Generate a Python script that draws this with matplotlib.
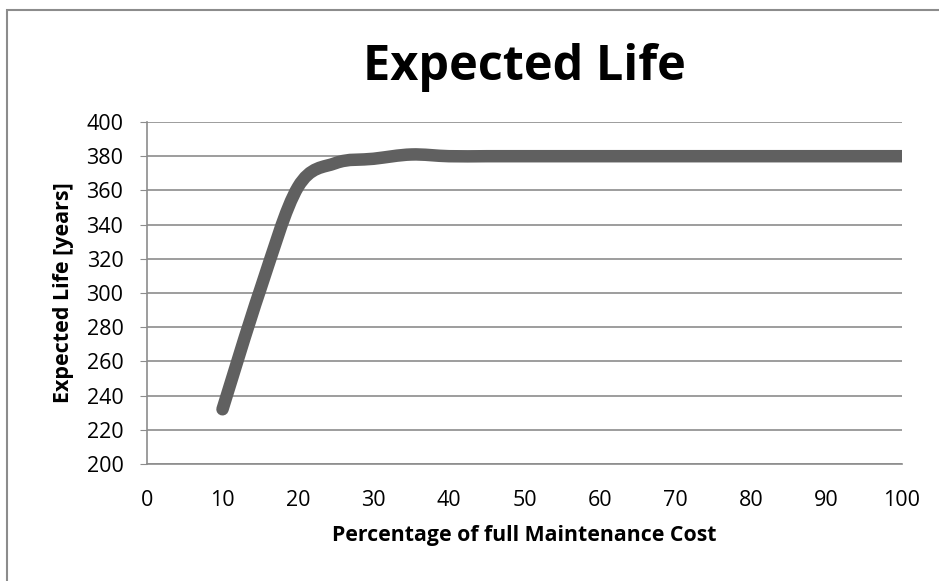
import numpy as np
import matplotlib.pyplot as plt
from matplotlib.path import Path
from matplotlib.patches import PathPatch, Rectangle

# data
cost_pct = [10, 15, 20, 25, 30, 35, 40, 45, 50, 55, 60, 65, 70, 75, 80, 85, 90, 95, 100]
life_years = [232, 302, 362, 376, 378.5, 381, 380, 380, 380, 380, 380, 380, 380, 380, 380, 380, 380, 380, 380]

x_ticks = [0, 10, 20, 30, 40, 50, 60, 70, 80, 90, 100]
y_ticks = [200, 220, 240, 260, 280, 300, 320, 340, 360, 380, 400]

plt.rcParams['font.family'] = ['Open Sans', 'DejaVu Sans']

fig = plt.figure(figsize=(9.39, 5.81), dpi=100)
fig.patches.append(Rectangle((7 / 939, -0.1), 1.2, 1 - 10 / 581 + 0.1, transform=fig.transFigure,
                             fill=False, edgecolor='#8c8c8c', linewidth=1.5))

ax = fig.add_axes([147 / 939, 1 - 464 / 581, (902 - 147) / 939, (464 - 122) / 581])

# smoothed line like excel (bezier between data points)
pts = np.column_stack([cost_pct, life_years]).astype(float)
verts = [pts[0]]
codes = [Path.MOVETO]
n = len(pts)
for i in range(n - 1):
    p0 = pts[max(i - 1, 0)]
    p1 = pts[i]
    p2 = pts[i + 1]
    p3 = pts[min(i + 2, n - 1)]
    verts += [p1 + (p2 - p0) / 6, p2 - (p3 - p1) / 6, p2]
    codes += [Path.CURVE4] * 3
ax.add_patch(PathPatch(Path(verts, codes), fill=False, edgecolor='#606060',
                       linewidth=9, capstyle='round', joinstyle='round', zorder=3))

ax.set_xlim(0, 100)
ax.set_ylim(200, 400)
ax.set_xticks(x_ticks)
ax.set_yticks(y_ticks)
ax.grid(axis='y', color='#8c8c8c', linewidth=1.2)
ax.set_axisbelow(True)
for s in ['top', 'right']:
    ax.spines[s].set_visible(False)
for s in ['left', 'bottom']:
    ax.spines[s].set_color('#8c8c8c')
    ax.spines[s].set_linewidth(1.2)
ax.tick_params(axis='y', length=5, color='#8c8c8c', labelsize=15.5, pad=12)
ax.tick_params(axis='x', length=0, labelsize=15.5, pad=19)

ax.set_title('Expected Life', fontsize=35, fontweight='bold', pad=30)
ax.set_xlabel('Percentage of full Maintenance Cost', fontsize=15.3, fontweight='bold', labelpad=10)
ax.set_ylabel('Expected Life [years]', fontsize=15.5, fontweight='bold', labelpad=9)

fig.savefig('out.png', dpi=100)
